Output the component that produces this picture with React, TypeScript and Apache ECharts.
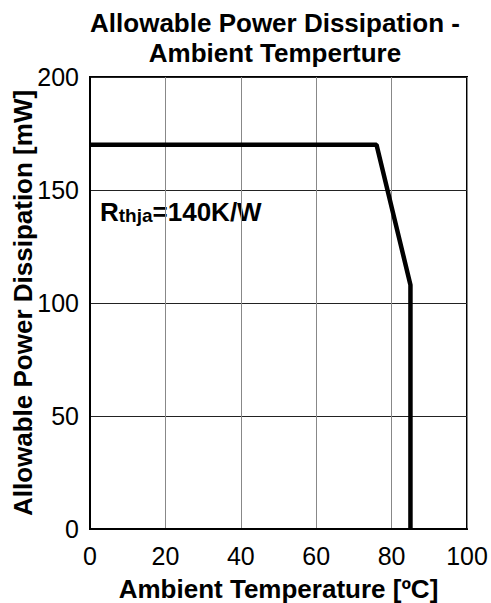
import React, { useEffect, useRef } from "react";
import * as echarts from "echarts";

const titleLines = ["Allowable Power Dissipation -", "Ambient Temperture"];
const xAxisName = "Ambient Temperature [ºC]";
const yAxisName = "Allowable Power Dissipation [mW]";
const xTicks = [0, 20, 40, 60, 80, 100];
const yTicks = [0, 50, 100, 150, 200];
const temperature = [0, 76, 85, 85];
const power = [170, 170, 108, 0];

const FONT = "Liberation Sans, Arial, sans-serif";

export default function App() {
  const ref = useRef<HTMLDivElement>(null);
  useEffect(() => {
    if (!ref.current) return;
    const chart = echarts.init(ref.current, undefined, { renderer: "svg" });
    chart.setOption({
      animation: false,
      backgroundColor: "#ffffff",
      title: {
        text: titleLines.join("\n"),
        left: 270,
        textAlign: "center",
        top: 3,
        textStyle: { fontFamily: FONT, fontSize: 26, fontWeight: "bold", color: "#000", lineHeight: 30 },
      },
      grid: {
        left: 90,
        right: 24,
        top: 77,
        bottom: 74,
        show: true,
        borderColor: "#000",
        borderWidth: 2,
        backgroundColor: "transparent",
        containLabel: false,
        outerBoundsMode: "none",
      },
      xAxis: {
        type: "value",
        min: xTicks[0],
        max: xTicks[xTicks.length - 1],
        interval: 20,
        name: xAxisName,
        nameLocation: "middle",
        nameGap: 47,
        nameMoveOverlap: false,
        nameTextStyle: { fontFamily: FONT, fontSize: 26, fontWeight: "bold", color: "#000" },
        axisLine: { show: true, lineStyle: { color: "#000", width: 2 } },
        axisTick: { show: false },
        axisLabel: { fontFamily: FONT, fontSize: 25, color: "#000", margin: 14 },
        splitLine: { show: true, lineStyle: { color: "#888", width: 1 } },
      },
      yAxis: {
        type: "value",
        min: yTicks[0],
        max: yTicks[yTicks.length - 1],
        interval: 50,
        name: yAxisName,
        nameLocation: "middle",
        nameGap: 54,
        nameMoveOverlap: false,
        nameTextStyle: { fontFamily: FONT, fontSize: 26, fontWeight: "bold", color: "#000" },
        axisLine: { show: true, lineStyle: { color: "#000", width: 2 } },
        axisTick: { show: false },
        axisLabel: { fontFamily: FONT, fontSize: 25, color: "#000", margin: 11 },
        splitLine: { show: true, lineStyle: { color: "#222", width: 1 } },
      },
      graphic: [
        {
          type: "text",
          left: 100,
          top: 199,
          style: {
            text: "{a|R}{b|thja}{a|=140K/W}",
            rich: {
              a: { fontFamily: FONT, fontSize: 26, fontWeight: "bold", fill: "#000", verticalAlign: "bottom" },
              b: { fontFamily: FONT, fontSize: 19, fontWeight: "bold", fill: "#000", verticalAlign: "bottom" },
            },
          },
        },
      ],
      series: [
        {
          type: "line",
          data: temperature.map((t, i) => [t, power[i]]),
          showSymbol: false,
          symbol: "none",
          lineStyle: { color: "#000", width: 4.5 },
          clip: false,
        },
      ],
    });
    return () => chart.dispose();
  }, []);
  return <div ref={ref} style={{ position: "fixed", left: 0, top: 0, width: 491, height: 603 }} />;
}
